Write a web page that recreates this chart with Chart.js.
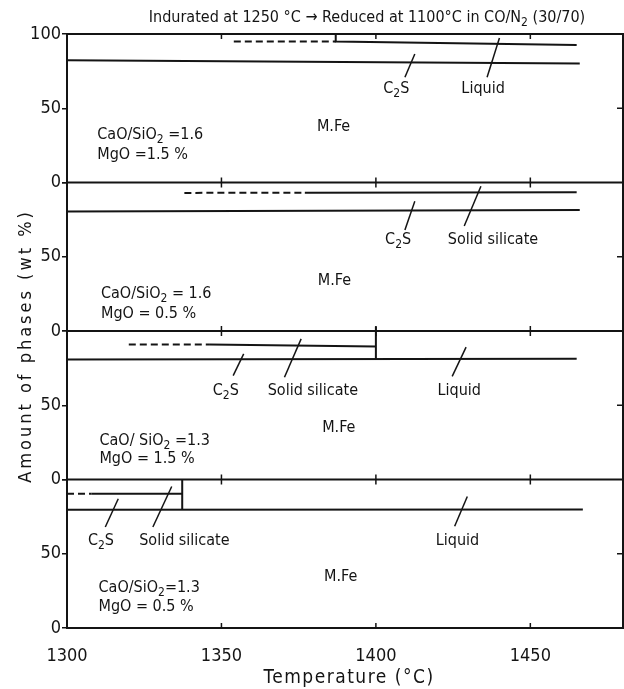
<!DOCTYPE html>
<html>
<head>
<meta charset="utf-8">
<script src="https://cdn.jsdelivr.net/npm/chart.js@4.4.1/dist/chart.umd.min.js"></script>
<style>
  html, body { margin: 0; padding: 0; background: #fff; }
  canvas { display: block; }
</style>
</head>
<body>
<canvas id="phases" width="624" height="689"></canvas>
<script>
// temperature axis (deg C) and phase axis (wt %)
const tempTicks = [1300, 1350, 1400, 1450];
const phaseTicks = [0, 50, 100];
const tempMin = 1300;
const tempMax = 1480;

// panel 1: CaO/SiO2 = 1.6, MgO = 1.5 %
const p1MFeT = [1300, 1466];
const p1MFe = [82.4, 80.2];
const p1DashT = [1354, 1387];
const p1Dash = [95.0, 95.0];
const p1SolidT = [1387, 1387, 1465];
const p1Solid = [100, 95.0, 92.6];
const p1LeadT = [[1412.6, 1409.4], [1440.0, 1436.0]];
const p1LeadV = [[86.5, 70.9], [97.3, 70.9]];

// panel 2: CaO/SiO2 = 1.6, MgO = 0.5 %
const p2MFeT = [1300, 1466];
const p2MFe = [80.5, 81.5];
const p2DashT = [1338, 1377];
const p2Dash = [93.0, 93.1];
const p2SolidT = [1377, 1465];
const p2Solid = [93.1, 93.4];
const p2LeadT = [[1412.6, 1409.4], [1434.0, 1428.6]];
const p2LeadV = [[87.3, 68.0], [97.5, 70.7]];

// panel 3: CaO/SiO2 = 1.3, MgO = 1.5 %
const p3MFeT = [1300, 1465];
const p3MFe = [80.8, 81.3];
const p3DashT = [1320, 1346];
const p3Dash = [90.9, 90.9];
const p3SolidT = [1346, 1400];
const p3Solid = [90.9, 89.6];
const p3EdgeT = [1400, 1400];
const p3Edge = [103, 81.0];
const p3LeadT = [[1357.2, 1353.8], [1375.8, 1370.4], [1429.2, 1424.7]];
const p3LeadV = [[84.6, 70.0], [94.7, 68.9], [89.1, 69.4]];

// panel 4: CaO/SiO2 = 1.3, MgO = 0.5 %
const p4MFeT = [1300, 1467];
const p4MFe = [79.7, 79.8];
const p4DashT = [1300, 1308];
const p4Dash = [90.4, 90.4];
const p4SolidT = [1308, 1337.3];
const p4Solid = [90.4, 90.4];
const p4EdgeT = [1337.3, 1337.3];
const p4Edge = [100, 79.8];
const p4LeadT = [[1316.6, 1312.4], [1333.9, 1327.8], [1429.6, 1425.5]];
const p4LeadV = [[87.0, 68.0], [95.3, 68.0], [88.6, 68.5]];

// text inside the panels, in data units; "_x" is a subscript
const p1Notes = [
  { text: 'C_2S', t: 1406.6, v: 62.8, align: 'center' },
  { text: 'Liquid', t: 1434.7, v: 62.8, align: 'center' },
  { text: 'M.Fe', t: 1386.3, v: 37.8, align: 'center' },
  { text: 'CaO/SiO_2 =1.6', t: 1309.8, v: 32.4, align: 'left' },
  { text: 'MgO =1.5 %', t: 1309.8, v: 18.9, align: 'left' }
];
const p2Notes = [
  { text: 'C_2S', t: 1407.2, v: 61.2, align: 'center' },
  { text: 'Solid silicate', t: 1437.9, v: 61.2, align: 'center' },
  { text: 'M.Fe', t: 1386.6, v: 34.0, align: 'center' },
  { text: 'CaO/SiO_2 = 1.6', t: 1311.0, v: 25.2, align: 'left' },
  { text: 'MgO = 0.5 %', t: 1311.0, v: 11.6, align: 'left' }
];
const p3Notes = [
  { text: 'C_2S', t: 1351.4, v: 60.0, align: 'center' },
  { text: 'Solid silicate', t: 1379.6, v: 60.0, align: 'center' },
  { text: 'Liquid', t: 1427.0, v: 60.0, align: 'center' },
  { text: 'M.Fe', t: 1388.0, v: 35.0, align: 'center' },
  { text: 'CaO/ SiO_2 =1.3', t: 1310.5, v: 26.3, align: 'left' },
  { text: 'MgO = 1.5 %', t: 1310.5, v: 14.1, align: 'left' }
];
const p4Notes = [
  { text: 'C_2S', t: 1311.0, v: 59.0, align: 'center' },
  { text: 'Solid silicate', t: 1338.0, v: 59.0, align: 'center' },
  { text: 'Liquid', t: 1426.4, v: 59.0, align: 'center' },
  { text: 'M.Fe', t: 1388.6, v: 34.4, align: 'center' },
  { text: 'CaO/SiO_2=1.3', t: 1310.2, v: 26.8, align: 'left' },
  { text: 'MgO = 0.5 %', t: 1310.2, v: 14.3, align: 'left' }
];

const titleText = 'Indurated at 1250 °C \u2192 Reduced at 1100°C in CO/N_2 (30/70)';
const xTitleText = 'Temperature (°C)';
const yTitleText = 'Amount of phases (wt %)';

(function() {
    'use strict';

    const FONT = '"DejaVu Sans Condensed", "Liberation Sans Narrow", "DejaVu Sans", sans-serif';
    const INK = '#141414';

    const panels = [
        { id: 'y1', mfe: [p1MFeT, p1MFe], dash: [p1DashT, p1Dash], solid: [p1SolidT, p1Solid], edge: null,
          leadT: p1LeadT, leadV: p1LeadV, notes: p1Notes },
        { id: 'y2', mfe: [p2MFeT, p2MFe], dash: [p2DashT, p2Dash], solid: [p2SolidT, p2Solid], edge: null,
          leadT: p2LeadT, leadV: p2LeadV, notes: p2Notes },
        { id: 'y3', mfe: [p3MFeT, p3MFe], dash: [p3DashT, p3Dash], solid: [p3SolidT, p3Solid], edge: [p3EdgeT, p3Edge],
          leadT: p3LeadT, leadV: p3LeadV, notes: p3Notes },
        { id: 'y4', mfe: [p4MFeT, p4MFe], dash: [p4DashT, p4Dash], solid: [p4SolidT, p4Solid], edge: [p4EdgeT, p4Edge],
          leadT: p4LeadT, leadV: p4LeadV, notes: p4Notes }
    ];

    function pts(ts, vs) {
        return ts.map((t, i) => ({ x: t, y: vs[i] }));
    }

    function line(axis, pair, extra) {
        return Object.assign({
            data: pts(pair[0], pair[1]),
            xAxisID: 'x',
            yAxisID: axis,
            borderColor: INK,
            borderWidth: 2,
            pointRadius: 0,
            fill: false,
            tension: 0
        }, extra || {});
    }

    const datasets = [];
    panels.forEach(p => {
        datasets.push(line(p.id, p.mfe));
        datasets.push(line(p.id, p.dash, { borderDash: [7, 4] }));
        datasets.push(line(p.id, p.solid));
        if (p.edge) datasets.push(line(p.id, p.edge, { clip: false }));
        p.leadT.forEach((ts, i) => {
            datasets.push(line(p.id, [ts, p.leadV[i]], { borderWidth: 1.5 }));
        });
    });

    // split "C_2S" into normal / subscript runs
    function runs(text) {
        const out = [];
        for (let i = 0; i < text.length; i++) {
            const sub = text[i] === '_' && i + 1 < text.length;
            const ch = sub ? text[++i] : text[i];
            const last = out[out.length - 1];
            if (last && last.sub === sub) last.t += ch;
            else out.push({ t: ch, sub: sub });
        }
        return out;
    }

    function drawRich(ctx, text, x, y, size, align, spacing) {
        const parts = runs(text);
        const big = size + 'px ' + FONT;
        const small = Math.round(size * 0.78) + 'px ' + FONT;
        ctx.letterSpacing = (spacing || 0) + 'px';
        let w = 0;
        parts.forEach(p => {
            ctx.font = p.sub ? small : big;
            p.w = ctx.measureText(p.t).width;
            w += p.w;
        });
        let cx = align === 'center' ? x - w / 2 : (align === 'right' ? x - w : x);
        ctx.textAlign = 'left';
        ctx.textBaseline = 'middle';
        parts.forEach(p => {
            ctx.font = p.sub ? small : big;
            ctx.fillText(p.t, cx, p.sub ? y + size * 0.32 : y);
            cx += p.w;
        });
        ctx.letterSpacing = '0px';
    }

    const decor = {
        id: 'decor',
        afterDraw(chart) {
            const ctx = chart.ctx;
            const a = chart.chartArea;
            const xs = chart.scales.x;
            ctx.save();
            ctx.strokeStyle = INK;
            ctx.fillStyle = INK;
            ctx.lineWidth = 2;
            ctx.strokeRect(a.left, a.top, a.right - a.left, a.bottom - a.top);

            panels.forEach(p => {
                const ys = chart.scales[p.id];
                const y0 = ys.getPixelForValue(0);
                const y100 = ys.getPixelForValue(100);
                const y50 = ys.getPixelForValue(50);
                ctx.lineWidth = 2;
                ctx.beginPath();
                ctx.moveTo(a.left, y0);
                ctx.lineTo(a.right, y0);
                ctx.stroke();

                // inner ticks
                ctx.lineWidth = 1.5;
                ctx.beginPath();
                tempTicks.slice(1).forEach(t => {
                    const px = xs.getPixelForValue(t);
                    ctx.moveTo(px, y100);
                    ctx.lineTo(px, y100 + 5);
                    ctx.moveTo(px, y0);
                    ctx.lineTo(px, y0 - 5);
                });
                ctx.moveTo(a.right, y50);
                ctx.lineTo(a.right - 6, y50);
                ctx.stroke();

                p.notes.forEach(n => {
                    drawRich(ctx, n.text, xs.getPixelForValue(n.t), ys.getPixelForValue(n.v), 16, n.align);
                });
            });

            drawRich(ctx, titleText, 367, 18, 16, 'center');
            drawRich(ctx, xTitleText, 349, 678, 19, 'center', 1.5);

            ctx.translate(26, 346);
            ctx.rotate(-Math.PI / 2);
            drawRich(ctx, yTitleText, 0, 0, 18, 'center', 3);
            ctx.restore();
        }
    };

    const scales = {
        x: {
            type: 'linear',
            position: 'bottom',
            min: tempMin,
            max: tempMax,
            afterBuildTicks: s => { s.ticks = tempTicks.map(v => ({ value: v })); },
            afterFit: s => { s.height = 61; },
            grid: { display: false },
            border: { display: false },
            ticks: {
                color: INK,
                padding: 10,
                maxRotation: 0,
                font: { family: FONT, size: 18 },
                callback: v => String(v)
            }
        }
    };
    panels.forEach((p, i) => {
        scales[p.id] = {
            type: 'linear',
            position: 'left',
            stack: 'panels',
            stackWeight: 1,
            weight: 10 - i,
            min: 0,
            max: 100,
            afterBuildTicks: s => { s.ticks = phaseTicks.map(v => ({ value: v })); },
            afterFit: s => { s.width = 67; },
            grid: { drawOnChartArea: false, drawTicks: true, tickLength: 5, color: INK, lineWidth: 1.5 },
            border: { display: false },
            ticks: {
                color: INK,
                padding: 1,
                font: { family: FONT, size: 18 },
                callback: v => (v === 100 && i > 0) ? '' : String(v)
            }
        };
    });

    new Chart(document.getElementById('phases'), {
        type: 'line',
        data: { datasets: datasets },
        options: {
            responsive: false,
            animation: false,
            events: [],
            layout: { padding: { top: 34, right: 1, left: 0, bottom: 0 } },
            plugins: { legend: { display: false }, tooltip: { enabled: false }, title: { display: false } },
            scales: scales
        },
        plugins: [decor]
    });
})();
</script>
</body>
</html>
